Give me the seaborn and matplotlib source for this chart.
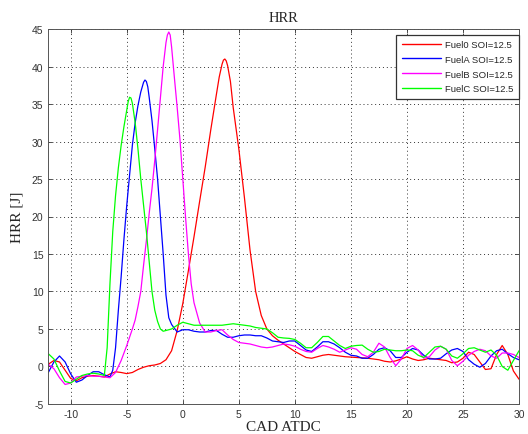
import numpy as np
import pandas as pd
import matplotlib
matplotlib.use("Agg")
import matplotlib.pyplot as plt
import seaborn as sns

# crank angle (deg ATDC) and heat release rate
cad_fuel0 = [-12, -11.5, -11, -10.5, -10, -9.5, -9, -8.5, -8, -7.5, -7, -6.5, -6, -5.5, -5, -4.5, -4,
             -3.5, -3, -2.5, -2, -1.5, -1, -0.5, 0, 0.5, 1, 1.5, 2, 2.5, 3, 3.25, 3.5, 3.625, 3.75, 3.875,
             4, 4.25, 4.5, 5, 5.5, 6, 6.5, 7, 7.5, 8, 8.5, 9, 9.5, 10, 10.5, 11, 11.5, 12, 12.5, 13, 13.5, 14,
             14.5, 15, 15.5, 16, 16.5, 17, 17.5, 18, 18.5, 19, 19.5, 20, 20.5, 21, 21.5, 22, 22.5, 23,
             23.5, 24, 24.5, 25, 25.5, 26, 26.5, 27, 27.5, 28, 28.5, 29, 29.5, 30]
hrr_fuel0 = [0.3, 0.8, 0.6, -0.5, -1.6, -1.9, -1.5, -1.3, -1.2, -1.3, -1.4, -1.0, -0.7, -0.8, -0.95, -0.8, -0.4,
             -0.1, 0.1, 0.2, 0.4, 0.9, 2.1, 4.8, 8.4, 12.8, 17.3, 22.0, 26.6, 31.6, 36.3, 38.6, 40.3, 40.85, 41.0, 40.75,
             40.1, 38.0, 34.5, 29.0, 22.5, 15.5, 10.0, 6.8, 5.0, 4.1, 3.5, 3.0, 2.5, 2.0, 1.6, 1.2, 1.1, 1.3, 1.5, 1.6, 1.5, 1.4,
             1.3, 1.25, 1.2, 1.15, 1.1, 1.0, 0.9, 0.7, 0.6, 0.75, 1.0, 1.3, 1.0, 0.8, 0.9, 1.1, 1.0, 0.9,
             0.8, 0.5, 0.6, 1.1, 1.9, 1.6, 0.6, -0.4, -0.3, 1.6, 2.8, 1.6, -0.6, -1.7]

cad_fuelA = [-12, -11.5, -11, -10.5, -10, -9.5, -9, -8.5, -8, -7.5, -7, -6.5, -6.25, -6, -5.75, -5.5, -5.25,
             -5, -4.75, -4.5, -4.25, -4, -3.75, -3.5, -3.375, -3.25, -3.125, -3, -2.75, -2.5, -2.25, -2,
             -1.75, -1.5, -1.25, -1, -0.5, 0, 0.5, 1, 1.5, 2, 2.5, 3, 3.5, 4, 4.5, 5, 5.5, 6, 6.5, 7, 7.5,
             8, 8.5, 9, 9.5, 10, 10.5, 11, 11.5, 12, 12.5, 13, 13.5, 14, 14.5, 15, 15.5, 16, 16.5, 17, 17.5,
             18, 18.5, 19, 19.5, 20, 20.5, 21, 21.5, 22, 22.5, 23, 23.5, 24, 24.5, 25, 25.5, 26, 26.5, 27,
             27.5, 28, 28.5, 29, 29.5, 30]
hrr_fuelA = [-0.8, 0.6, 1.4, 0.6, -1.0, -2.1, -1.8, -1.2, -0.7, -0.7, -1.1, -1.4, -0.5, 2.5, 7.5, 12.0, 17.0,
             21.5, 25.5, 29.5, 32.5, 34.8, 36.6, 37.9, 38.2, 38.0, 37.3, 35.9, 32.8, 29.0, 25.0, 20.0,
             15.0, 9.5, 6.5, 5.6, 4.6, 4.9, 4.9, 4.7, 4.6, 4.6, 4.8, 4.8, 4.3, 3.9, 3.9, 4.1, 4.2, 4.2, 4.1, 4.1, 3.8,
             3.4, 3.3, 3.2, 3.4, 3.4, 2.8, 2.2, 2.0, 2.6, 3.3, 3.3, 3.0, 2.5, 1.9, 1.5, 1.4, 1.1, 1.1, 1.6, 2.3,
             2.5, 2.1, 1.2, 1.2, 1.9, 2.4, 2.2, 1.5, 1.0, 1.0, 1.1, 1.7, 2.2, 2.4, 2.0, 0.9, 0.3, -0.1, 0.4,
             1.4, 2.1, 2.3, 1.7, 1.2, 0.9]

cad_fuelB = [-12, -11.5, -11, -10.5, -10, -9.5, -9, -8.5, -8, -7.5, -7, -6.5, -6, -5.5, -5, -4.5, -4.25,
             -4, -3.75, -3.5, -3.25, -3, -2.75, -2.5, -2.25, -2, -1.75, -1.5, -1.375, -1.25, -1.125, -1,
             -0.75, -0.5, -0.25, 0, 0.25, 0.5, 0.75, 1, 1.5, 2, 2.5, 3, 3.5, 4, 4.5, 5, 5.5, 6, 6.5, 7, 7.5,
             8, 8.5, 9, 9.5, 10, 10.5, 11, 11.5, 12, 12.5, 13, 13.5, 14, 14.5, 15, 15.5, 16, 16.5, 17, 17.5,
             18, 18.5, 19, 19.5, 20, 20.5, 21, 21.5, 22, 22.5, 23, 23.5, 24, 24.5, 25, 25.5, 26, 26.5, 27,
             27.5, 28, 28.5, 29, 29.5, 30]
hrr_fuelB = [0.3, -0.3, -1.5, -2.4, -2.2, -1.4, -1.3, -1.2, -1.3, -1.3, -1.4, -1.5, -0.8, 0.8, 2.8, 5.0, 6.2,
             8.0, 10.0, 13.5, 16.8, 20.4, 23.7, 27.5, 31.6, 35.8, 40.0, 43.2, 44.2, 44.6, 44.2, 42.6,
             38.5, 34.5, 30.2, 25.0, 19.8, 15.0, 11.0, 8.5, 5.8, 4.6, 4.6, 4.8, 4.9, 4.2, 3.6, 3.2, 3.1, 3.0, 2.8, 2.6, 2.5,
             2.6, 2.8, 3.0, 2.9, 2.7, 2.3, 2.0, 1.9, 2.4, 2.8, 2.6, 2.3, 1.9, 2.2, 2.5, 2.3, 1.6, 1.3, 1.9, 3.1,
             2.6, 1.2, 0.1, 1.0, 2.4, 2.8, 2.2, 1.1, 1.3, 2.2, 2.7, 2.3, 0.8, 0.1, 0.7, 1.5, 2.0, 2.3, 2.1,
             1.4, 1.1, 1.8, 1.8, 1.6, 1.2]

cad_fuelC = [-12, -11.5, -11, -10.5, -10, -9.5, -9, -8.5, -8, -7.5, -7, -6.75, -6.5, -6.25, -6, -5.75, -5.5,
             -5.25, -5, -4.875, -4.75, -4.625, -4.5, -4.25, -4, -3.75, -3.5, -3.25, -3, -2.75, -2.5, -2.25,
             -2, -1.75, -1.5, -1, -0.5, 0, 0.5, 1, 1.5, 2, 2.5, 3, 3.5, 4, 4.5, 5, 5.5, 6, 6.5, 7, 7.5, 8,
             8.5, 9, 9.5, 10, 10.5, 11, 11.5, 12, 12.5, 13, 13.5, 14, 14.5, 15, 15.5, 16, 16.5, 17, 17.5,
             18, 18.5, 19, 19.5, 20, 20.5, 21, 21.5, 22, 22.5, 23, 23.5, 24, 24.5, 25, 25.5, 26, 26.5, 27,
             27.5, 28, 28.5, 29, 29.5, 30]
hrr_fuelC = [1.7, 1.0, -0.6, -2.0, -2.2, -1.7, -1.2, -1.0, -0.9, -1.0, -1.2, 2.5, 11.0, 18.0, 22.8, 26.5, 29.5,
             32.0, 34.2, 35.3, 35.9, 35.8, 35.1, 32.5, 29.0, 25.0, 21.5, 18.0, 14.0, 10.0, 7.5, 6.0,
             5.0, 4.7, 4.8, 5.0, 5.5, 5.9, 5.7, 5.5, 5.5, 5.5, 5.5, 5.5, 5.5, 5.6, 5.7, 5.6, 5.5, 5.4, 5.2, 5.1, 5.0, 4.5,
             3.9, 3.8, 3.75, 3.6, 3.1, 2.5, 2.5, 3.2, 4.0, 4.0, 3.4, 2.8, 2.4, 2.7, 2.8, 2.85, 2.3, 1.9, 2.0,
             2.3, 2.2, 2.1, 2.1, 2.2, 2.1, 1.5, 1.2, 1.9, 2.6, 2.7, 2.3, 1.4, 1.1, 1.7, 2.4, 2.5, 2.2, 1.9,
             2.2, 1.5, 0.0, -0.5, 0.8, 2.1]

labels = ["Fuel0 SOI=12.5", "FuelA SOI=12.5", "FuelB SOI=12.5", "FuelC SOI=12.5"]
colors = ["#ff0000", "#0000ff", "#ff00ff", "#00ff00"]

frames = []
for lab, xs, ys in zip(labels,
                       [cad_fuel0, cad_fuelA, cad_fuelB, cad_fuelC],
                       [hrr_fuel0, hrr_fuelA, hrr_fuelB, hrr_fuelC]):
    frames.append(pd.DataFrame({"cad": xs, "hrr": ys, "fuel": lab}))
df = pd.concat(frames, ignore_index=True)

sns.set_style("white")
plt.rcParams["font.family"] = ["Liberation Sans", "DejaVu Sans"]
plt.rcParams["axes.unicode_minus"] = False

fig = plt.figure(figsize=(5.28, 4.35), dpi=100)
ax = fig.add_axes([0.0915, 0.069, 0.8915, 0.862])

sns.lineplot(data=df, x="cad", y="hrr", hue="fuel", palette=colors, linewidth=0.9,
             estimator=None, sort=False, ax=ax)

ax.set_xlim(-12, 30)
ax.set_ylim(-5, 45)
ax.set_xticks(np.arange(-10, 31, 5))
ax.set_yticks(np.arange(-5, 46, 5))
ax.tick_params(direction="in", length=3, width=0.6, labelsize=7.5, colors="#333333",
               top=True, right=True, bottom=True, left=True)
ax.grid(True, linestyle=(0, (1, 3)), color="#333333", linewidth=0.7)
for sp in ax.spines.values():
    sp.set_color("#555555")
    sp.set_linewidth(0.7)

ax.set_title("HRR", family="Liberation Serif", fontsize=10.5, pad=6)
ax.set_xlabel("CAD ATDC", family="Liberation Serif", fontsize=11, labelpad=1)
ax.set_ylabel("HRR [J]", family="Liberation Serif", fontsize=11, labelpad=6)

leg = ax.legend(loc="upper right", bbox_to_anchor=(0.999, 0.985), fontsize=6.8, frameon=True,
                fancybox=False, borderaxespad=0, handlelength=4.2, handletextpad=0.4,
                labelspacing=0.62, borderpad=0.55)
leg.get_frame().set_edgecolor("#333333")
leg.get_frame().set_linewidth(0.9)
leg.get_frame().set_alpha(1)
for line in leg.get_lines():
    line.set_linewidth(1.0)

fig.savefig("out.png", dpi=100, facecolor="white")
